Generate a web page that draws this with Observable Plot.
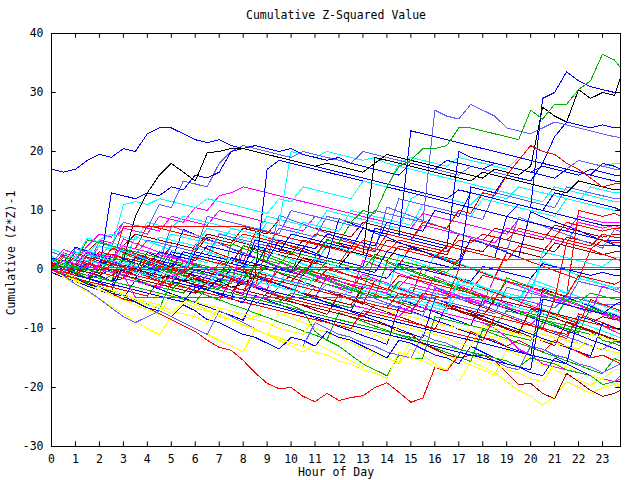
<!DOCTYPE html>
<html><head><meta charset="utf-8">
<script src="https://cdn.jsdelivr.net/npm/d3@7"></script>
<script src="https://cdn.jsdelivr.net/npm/@observablehq/plot@0.6"></script>
<style>body{margin:0;background:#fff}</style>
</head><body><div id="chart"></div>
<script>
const title = "Cumulative Z-Squared Value";
const xLabel = "Hour of Day";
const yLabel = "Cumulative (Z*Z)-1";
const hours = [0,0.5,1,1.5,2,2.5,3,3.5,4,4.5,5,5.5,6,6.5,7,7.5,8,8.5,9,9.5,10,10.5,11,11.5,12,12.5,13,13.5,14,14.5,15,15.5,16,16.5,17,17.5,18,18.5,19,19.5,20,20.5,21,21.5,22,22.5,23,23.5,23.75];
const xTicks = [0,1,2,3,4,5,6,7,8,9,10,11,12,13,14,15,16,17,18,19,20,21,22,23];
const yTicks = [-30,-20,-10,0,10,20,30,40];

const R="#ff0000", G="#00b000", B="#0000ff", M="#ff00ff", C="#00ffff", D="#a00000", Y="#ffff00", K="#000000", L="#6060ff";

const s01=[17,16.5,17,18.5,19.5,19,20.5,20, 23,24,24,23,22,21.5,22,21, 20.5,21,20.5,20,20.5,19.5,19,18.5, 19,18,17.5,17,16.5,16,18,17.5, 17,18.5,18,17.5,17,18,17.5,17, 16.5,17.5,17,16.5,16,17,16.5,16, 16];
const s02=[0,1,0.5,0,-0.5,2,1.5,9, 13,16,18,16.5,15,19.8,20,20.5, 20.5,20,19.5,19,18.5,18,17.5,18, 17.5,17,16.5,18,19.5,19,18.5,18, 17.5,17,16.5,16,15.5,17,16.5,16, 17.5,27.5,26,25,30.5,29,30,29.5, 32.5];
const s03=[0,1,2,1.5,1,0.5,1,0.5, 0,-0.5,1,0.5,0,-0.5,-1,0.5, 0,2,1.5,1,3,2.5,2,5, 4.5,8,10,9.5,14,17.5,18.5,20.5, 20.5,21,24,24,23.5,23,22.5,22, 27,25.5,28,28,30.5,32,36.5,35.5, 34.2];
const s04=[0,-1,0,1,0.5,2,1.5,1, 0.5,3,2.5,2,1.5,4,3.5,3, 2.5,2,1.5,5,4.5,4,3.5,6, 5.5,5,4.5,4,8,7.5,7,6.5, 10,9.5,9,13,12.5,12,11.5,11, 10.5,29,30,33.5,32,31,30.5,30, 30];
const s05=[0,1.5,1,0.5,3,2.5,2,1.5, 1,0.5,4,3.5,3,2.5,6,5.5, 5,4.5,4,7,6.5,6,5.5,9, 8.5,8,7.5,10,9.5,9,8.5,8, 27,26,25.5,28,27,26,24,23.5, 23,24,25,24.5,24,23.5,23,22.5, 22.4];
const s06=[0,0.5,-0.5,1,0.5,0,-0.5,2, 1.5,1,0.5,3,2.5,2,1.5,1, 0.5,4,3.5,3,6,5.5,5,4.5, 4,3.5,7,6.5,6,5.5,23.5,23, 22.5,22,21.5,21,20.5,20,19.5,19, 18.5,18,22.5,25,24.5,24,24.5,24, 24];
const s07=[0,1,0.5,0,-0.5,-1,0,-0.5, -1,-1.5,-1,-2,-1.5,-2.5,-2,-3, -2.5,-1,0.5,0,-0.5,2,1.5,1, 0.5,3,2.5,19,18.5,18,17.5,17, 16.5,16,15.5,15,16.5,16,15.5,15, 14.5,14,13.5,13,15,14.5,14,13.5, 13.5];
const s08=[0,-0.5,1,0.5,0,13,12.5,12, 13,12.5,14,13.5,16,15.5,16.5,20, 20.5,20,19.5,19,18.5,18,17.5,17, 16.5,16,15.5,15,14.5,14,13.5,13, 12.5,12,13.5,13,12.5,12,11.5,11, 10.5,10,13,12.5,12,11.5,11,10.5, 10];
const s09=[0,1,2,1.5,4,3.5,11,11.5, 11,12,11.5,11,10.5,12,11.5,11, 10.5,10,9.5,12,11.5,14,13.5,13, 12.5,12,15,14.5,14,18,19,18.5, 18,17.5,19,18.5,18,17.5,17,19, 18.5,18,17.5,17,18.5,18,17.5,18, 18];
const s10=[0,-0.5,-1,1,0.5,0,4,3.5, 3,2.5,6,5.5,5,4.5,4,7, 6.5,6,5.5,5,4.5,8,7.5,7, 6.5,10,9.5,9,8.5,8,7.5,11, 10.5,10,9.5,9,12,11.5,11,10.5, 10,9.5,9,12,11.5,11,10.5,10, 10];
const s11=[0,2,1.5,5,4.5,4,8,7.5, 7,11,10.5,15,14.5,14,18,20, 21,20.5,20,19.5,19,20,19.5,19, 18.5,18,20,19.5,19,18.5,18,17.5, 17,16.5,16,17.5,17,16.5,16,15.5, 15,18,17.5,17,18.5,18,17.5,17, 17];
const s12=[0,-1,-0.5,-1.5,-1,0,-0.5,-1, -1.5,0,-0.5,-1,3,2.5,2,1.5, 1,0.5,4,3.5,3,2.5,2,5, 4.5,4,3.5,3,6,5.5,5,4.5, 4,3.5,20,19,18.5,18,17.5,17, 16.5,16,15.5,17,16.5,16,15.5,15, 15];
const s13=[0,0.5,3,2.5,5,6,5.5,5, 8,7.5,7,9,8.5,8,7.5,7, 6.5,6,9,8.5,8,7.5,7,10, 9.5,9,8.5,8,7.5,7,12,13, 12.5,12,11.5,11,13,12.5,12,14, 13.5,13,12.5,12,11.5,14,13.5,13, 13];
const s14=[0,-0.5,-1,-1.5,-1,-2,-1.5,0, -0.5,-1,-1.5,-2,0,-0.5,-1,-1.5, -2,1,0.5,0,-0.5,-1,2,1.5, 1,0.5,0,-0.5,3,2.5,2,1.5, 1,0.5,0,14,13.5,13,16,15.5, 15,18,17.5,17,16.5,16,18,17.5, 17];
const s15=[0,-0.5,-1,0.5,0,-0.5,-1,-1.5, -2,-2.5,-1,-1.5,-2,-2.5,-3,-1, -1.5,-2,-2.5,0,-0.5,-1,2,1.5, 1,4,3.5,3,6,5.5,5,8, 7.5,7,10,9.5,13,12.5,16,18.5, 21,20,19.5,18,17,15.5,14,14.5, 14.5];
const s16=[0,1,0.5,0,-0.5,-1,0.5,0, -0.5,-1,-1.5,0,-0.5,-1,-1.5,-2, -1,-1.5,-2,-2.5,-1,-1.5,-2,0, -0.5,-1,-1.5,-2,-2.5,-3,-1,-1.5, -2,-2.5,-3,-3.5,-1,-1.5,-2,-2.5, -3,-3.5,-4,-4.5,10,9.5,9,9.5, 9];
const s17=[0,0.5,1,3,2.5,2,4,3.5, 7.5,7,6.5,6,5.5,5,4.5,4, 6,5.5,5,4.5,4,3.5,6,5.5, 5,4.5,4,3.5,3,5,4.5,4, 3.5,3,5,4.5,6,5.5,5,7, 6.5,6,5.5,8,7.5,7,6.5,7, 7];
const s18=[0,0.5,1,0.5,0,0.5,7.3,7.3, 7.3,7.3,7.3,7.3,7.3,7.3,7.3,7.3, 7.3,6.8,6.3,5.8,5.3,4.8,4.3,3.8, 3.3,2.8,5,4.5,4,3.5,3,2.5, 2,4,3.5,3,2.5,2,1.5,4, 3.5,3,5.5,5,4.5,4,6,5.5, 5.5];
const s19=[0,-0.5,-1,1,3,2.5,2,1.5, 1,0.5,0,3,2.5,2,1.5,1, 4,3.5,3,2.5,2,1.5,1,4, 3.5,3,2.5,2,1.5,4,3.5,3, 2.5,2,1.5,5,4.5,4,3.5,3, 2.5,2,4.5,4,3.5,3,2.5,3, 3];
const s20=[0,1,0.5,3,5,4.5,4,6, 5.5,5,4.5,4,3.5,6,5.5,5, 4.5,4,3.5,3,2.5,5,4.5,4, 3.5,3,2.5,2,5,4.5,4,3.5, 3,2.5,6,5.5,5,7,6.5,6, 5.5,5,7.5,7,6.5,6,5.5,6, 6];
const s25=[0,0.5,-0.5,-1,1,0.5,0,-0.5, -1,1.5,1,0.5,0,-0.5,-1,2, 1.5,1,0.5,0,-0.5,-1,1.5,1, 0.5,0,-0.5,-1,-1.5,1,0.5,0, -0.5,-1,-1.5,-2,0.5,0,-0.5,-1, -1.5,1,0.5,0,-0.5,-1,-0.5,-1, -1];
const s26=[0,-0.5,-1,-1.5,-2,-1,-1.5,-2, -2.5,-3,-1,-1.5,-2,-2.5,-3,-3.5, -4,-2,-2.5,-3,-3.5,-4,-4.5,-2.5, -3,-3.5,-4,-4.5,-5,-5.5,-3,-3.5, -4,-4.5,-5,-5.5,-6,-4,-4.5,-5, -5.5,-6,-6.5,-4.5,-5,-5.5,-6,-6, -6];
const s27=[0,1,0.5,0,-0.5,-1,-1.5,-2, 0,-0.5,-1,-1.5,-2,-2.5,-3,-1, -1.5,-2,-2.5,-3,-3.5,-1.5,-2,-2.5, -3,-3.5,-4,-2,-2.5,-3,-3.5,-4, -4.5,-2,-2.5,-3,-3.5,-4,-4.5,-5, -2.5,-3,-3.5,-4,-1.5,-2,-2.5,-3, -3];
const s28=[0,2,1.5,4,6,5.5,8,7.5, 7,6.5,9,8.5,8,7.5,10,9.5, 9,8.5,8,7.5,7,6.5,9,8.5, 8,7.5,7,6.5,6,5.5,5,7.5, 7,6.5,6,5.5,5,4.5,7,6.5, 6,5.5,5,4.5,8,7.5,7,7.5, 7];
const s29=[0,-0.5,-1,-1.5,1,0.5,0,-0.5, -1,-1.5,-2,-2.5,-3,-1,-1.5,-2, -2.5,-3,-3.5,-4,-4.5,-5,-3,-3.5, -4,-4.5,-5,-5.5,-6,-6.5,-7,-5, -5.5,-6,-6.5,-7,-7.5,-8,-8.5,-9, -9.5,-7,-7.5,-8,-8.5,-9,-9.5,-10.5, -11];
const s30=[0,-1,-0.5,-1.5,-2,-1,-1.5,-2, -2.5,-3,-3.5,-4,-2,-2.5,-3,-3.5, -4,-4.5,-5,-5.5,-4,-4.5,-5,-5.5, -6,-6.5,-4,-4.5,-5,-5.5,-6,-6.5, -7,-7.5,-8,-8.5,-9,-9.5,-7,-7.5, -8,-8.5,-9,-9.5,-10,-10.5,-12,-12.5, -13];
const s31=[0,-1,-2,-2.5,-3.5,-4,-5,-5.5, -6,-4,-4.5,-5,-5.5,-6,-6.5,-7, -7.5,-8,-5.5,-6,-6.5,-7,-7.5,-8, -8.5,-9,-9.5,-10,-7,-7.5,-8,-8.5, -9,-9.5,-10,-10.5,-11,-11.5,-12,-10, -10.5,-11,-11.5,-12,-12.5,-13,-13.5,-14, -14];
const s32=[0,-1.3,-2.5,-3.8,-5,-6.3,-7.5,-8.8, -10,-11,-8,-9,-10,-11,-12,-13, -14,-10,-11,-12,-13,-14,-12.5,-13.5, -14.5,-15.5,-16.5,-14,-15,-16,-13.5,-14.5, -16,-17,-19,-15.5,-16.5,-17.5,-19,-20.5, -21.5,-23,-21.5,-19,-20,-21,-20,-19.5, -20];
const s33=[0,-0.5,-1.5,-2,-3,-4,-5,-5.5, -6.5,-7.5,-8.5,-9.5,-10.5,-12,-13.2,-13.7, -15.4,-17.5,-19.3,-20.2,-20,-21.5,-22.4,-21, -22.2,-21.7,-21.4,-20,-19.2,-20.8,-22.5,-21.8, -16.6,-17.2,-14.6,-10.5,-11.5,-12,-13,-12, -13,-14,-12,-13,-14,-15,-14.5,-15.5, -16];
const s34=[0,-0.5,-1,-1.5,0,-0.5,-1,-1.5, -2,-2.5,-3,-3.5,-4,-2,-2.5,-3, -3.5,-4,-4.5,-5,-5.5,-6,-6.5,-7, -7.5,-8,-8.5,-9,-9.5,-10.5,-11,-12.5, -13.5,-14.5,-15,-14.5,-14.5,-15.5,-17.5,-19.5, -19.3,-21,-21.9,-17.6,-19,-20.5,-21.5,-21, -20.5];
const s35=[0,-1,-1.5,0,-0.5,-1,-1.5,-2, -2.5,-3,-3.5,-1.5,-2,-2.5,-3,-3.5, -4,-4.5,-5,-5.5,-6,-7,-10.5,-12, -13,-14.5,-16,-17,-18,-14.5,-15,-15, -8,-8.5,-9,-9.5,-10,-10.5,-11,-11.5, -12,-9,-9.5,-10,-10.5,-11,-11.5,-12, -12];
const s36=[0,-1,-1.5,-2.5,-3,-4,-4.5,-5.5, -6.5,-7,-8,-6,-7,-8.5,-9,-10, -11,-11.5,-12.5,-13.5,-11.5,-12,-13,-10.5, -11.5,-12,-13,-14,-15,-12,-12.5,-13.5, -14.5,-15,-16,-13,-14,-15,-16,-16.5, -17.5,-18,-15,-16,-17,-18,-18.5,-19, -19];
const s37=[0,-1,-2.5,-3.5,-5,-6.5,-8,-9, -8,-7,-8,-9,-10,-11,-7,-8, -9,-10,-11,-11.5,-12.5,-13,-9,-10, -11,-11.5,-12.5,-13,-14,-14.5,-15,-11, -12,-12.5,-13.5,-14,-15,-15.5,-16.5,-17, -13,-13.5,-14.5,-15,-16,-16.5,-17.5,-16.5, -16];
const s38=[0,1,0.5,0,-0.5,-1,-1.5,-2, -2.5,-3,-1,-1.5,-2,-2.5,-3,-3.5, -4,-4.5,-5,-3,-3.5,-4,-4.5,-5, -5.5,-6,-6.5,-7,-7.5,-8,-6,-6.5, -7,-7.5,-8,-8.5,-9,-10,-11.5,-13.5, -14.5,-16,-16.5,-17,-17.5,-18,-18.5,-19, -18.5];
const s39=[0,0.5,-0.5,-1,-1.5,-2,0,-0.5, -1,-1.5,-2,-2.5,-3,-3.5,-1.5,-2, -2.5,-3,-3.5,-4,-4.5,-5,-5.5,-6, -6.5,-7,-7.5,-8,-8.5,-9,-9.5,-10, -10.5,-11,-11.5,-12,-12.5,-13,-13.5,-14, -14.5,-15,-15.5,-16,-8,-8.5,-9.5,-10, -10];
const s40=[0,1,3,2.5,2,1.5,1,0.5, 0,-0.5,-1,-1.5,-2,-2.5,-0.5,-1, -1.5,-2,-2.5,-3,-3.5,-4,-4.5,-5, -5.5,-3,-3.5,-4,-4.5,-5,-5.5,-6, -6.5,-7,-4,-4.5,-5,-5.5,-6,-6.5, -7,-7.5,-8,-5,-5.5,-6,-7,-7.5, -8];
const s41=[0,2,1.5,5,4.5,4,3.5,3, 2.5,2,1.5,1,0.5,0,-0.5,-1, -1.5,0.5,0,-0.5,-1,-1.5,-2,-2.5, -3,-3.5,-4,-4.5,-5,-2,-2.5,-3, -3.5,-4,-4.5,-5,-5.5,-6,-6.5,-7, -7.5,-8,-8.5,-5,-5.5,-4,-4.5,-5, -5];
const s42=[0,-0.5,1,0.5,3,2.5,2,1.5, 1,0.5,0,-0.5,2,1.5,1,0.5, 0,-0.5,-1,-1.5,-2,0,-0.5,-1, -1.5,-2,-2.5,-3,-3.5,-1,-1.5,-2, -2.5,-3,-3.5,-4,-4.5,-5,-2,-2.5, -3,-3.5,-4,-4.5,-1,-1.5,-2,-2.5, -2];
const s44=[0,0.5,-0.5,1.5,1,0.5,0,-0.5, -1,-1.5,-2,0,-0.5,-1,-1.5,-2, -2.5,-3,-1,-1.5,-2,-2.5,-3,-3.5, -4,-4.5,-5,-5.5,-6,-6.5,-4,-4.5, -5,-5.5,-6,-6.5,-7,-7.5,-3,-3.5, -4,-4.5,-5,-5.5,-2,-2.5,-3,-3.5, -3];
const s45=[0,0.5,0,-0.5,-1,1,0.5,0, -0.5,-1,-1.5,-2,-2.5,-3,-3.5,-4, -1.5,-2,-2.5,-3,-3.5,-4,-4.5,-5, -5.5,-6,-3,-3.5,-4,-4.5,-5,-5.5, -6,-6.5,-7,-7.5,-8,-5,-5.5,-6, -6.5,-7,-7.5,-8,-8.5,-9,-8,-8.5, -8];
const s46=[0,-1,-1.5,-2,-3,-3.5,-4,-5, -5.5,-6,-7,-7.5,-8,-9,-6.5,-7, -8,-8.5,-9,-10,-10.5,-11,-8,-8.5, -9,-10,-10.5,-11,-12,-9.5,-10,-10.5, -11,-11.5,-12.5,-13,-9.5,-10,-10.5,-11, -11.5,-12,-12.5,-13,-13.5,-11,-11.5,-12, -12];
const s47=[0,-0.5,-1.5,-2,-3,-3.5,-4.5,-5, -6,-6.5,-7.5,-5.5,-6.5,-7,-8,-8.5, -9.5,-10,-11,-11.5,-12.5,-13,-14,-14.5, -15.5,-16,-17,-17.5,-18.5,-14,-15,-15.5, -16.5,-17,-14,-14.5,-15.5,-16,-17,-17.5, -18.5,-19,-16,-16.5,-17.5,-18,-18.5,-17, -17];
const s48=[0,0.5,-0.5,-1,-1.5,-2,-2.5,-3, -3.5,-4,-4.5,-5,-5.5,-3,-3.5,-4, -4.5,-5,-5.5,-6,-6.5,-7,-7.5,-8, -8.5,-9,-9.5,-10,-10.5,-11,-11.5,-12, -12.5,-13,-13.5,-14,-14.5,-15,-15.5,-16.5, -15,-15.5,-16,-17,-17.5,-18,-19.5,-19, -18];
const s49=[0,1,0.5,0,2.5,2,1.5,1, 0.5,0,3,2.5,2,1.5,1,0.5, 0,5,4.5,4,3.5,3,2.5,2, 1.5,1,0.5,7,6.5,6,5.5,5, 4.5,4,3.5,3,2.5,2,9,8.5, 8,7.5,7,6.5,6,5.5,5,5, 5];
const s50=[0,2,1.5,1,4,3.5,3,2.5, 5,4.5,4,3.5,3,9,8.5,8, 7.5,7,6.5,6,10,9.5,9,8.5, 8,7.5,7,6.5,6,12,11.5,11, 10.5,10,9.5,9,8.5,13,12.5,12, 11.5,11,10.5,14,13.5,13,12.5,12, 12];
const s51=[0,-0.5,2,1.5,1,0.5,0,-0.5, -1,-1.5,-2,1,0.5,0,-0.5,-1, -1.5,-2,-2.5,-3,-3.5,-4,-1,-1.5, -2,-2.5,-3,-3.5,-4,-4.5,-5,-5.5, -6,-6.5,-2,-2.5,-3,-3.5,-4,-4.5, -5,3,2.5,2,1.5,1,0.5,2, 2];
const s52=[0,1.5,1,3,2.5,2,4,3.5, 3,2.5,2,1.5,1,0.5,0,-0.5, -1,-1.5,1,0.5,0,-0.5,-1,-1.5, -2,-2.5,-3,-3.5,-4,-2,-2.5,-3, -3.5,-4,-4.5,-5,-5.5,-6,-6.5,-7, -7.5,-5,-5.5,-6,-6.5,-7,-7.5,-8, -8];
const s53=[0,0.5,2,1.5,1,3.5,3,2.5, 2,1.5,4,3.5,3,5.5,5,4.5, 7,6.5,6,8.5,8,7.5,7,6.5, 6,5.5,8,7.5,7,6.5,6,5.5, 5,4.5,4,3.5,3,5.5,5,4.5, 4,3.5,3,5.5,5,4.5,4,4, 4];
const s54=[0,-0.5,-1,-1.5,-2,-2.5,-3,-3.5, -4,-4.5,-5,-5.5,-3,-3.5,-4,-4.5, -5,-5.5,-6,-6.5,-7,-7.5,-8,-8.5, -9,-9.5,-10,-10.5,-11,-11.5,-12,-12.5, -13,-13.5,-14,-14.5,-15,-15.5,-16,-16.5, -17,-5,-5.5,-6,-6.5,-7,-7.5,-6, -5.5];
const s55=[0,1,0.5,0,-0.5,-1,-1.5,1, 0.5,0,-0.5,-1,-1.5,-2,-2.5,-3, -3.5,-1,-1.5,-2,-2.5,-3,-3.5,-4, -4.5,-5,-5.5,-6,-6.5,-4,-4.5,-5, -5.5,-6,-6.5,-7,-7.5,-8,-8.5,-9, -9.5,-10,-5,4.5,4,3.5,5,4.5, 4.5];
const s56=[0,-0.5,-1,1,0.5,0,-0.5,-1, -1.5,-2,-2.5,-3,-3.5,-4,-4.5,-5, -5.5,-6,-6.5,-7,-7.5,-8,-8.5,-9, -9.5,-10,-7,-7.5,-8,-8.5,-9,-9.5, -10,-10.5,-11,-11.5,-12,-8,-8.5,-9, -9.5,-10,-10.5,-11,-8.5,-9,-9.5,-10, -10];
const s57=[0,1,0.5,2.5,2,4.5,4,3.5, 3,5.5,5,4.5,4,7,6.5,6, 5.5,5,8,7.5,20,19.5,19,20, 19.5,19,18.5,19,18,17.5,17,16.5, 16,15.5,15,14.5,14,13.5,13,12.5, 12,11.5,14,13.5,13,12.5,12,11.5, 11.5];
const s58=[0,-0.5,-1,0.5,0,-0.5,-1,-1.5, 1,0.5,0,-0.5,-1,-1.5,-2,0, -0.5,-1,17,18.5,18,17.5,17,16.5, 16,15.5,15,14.5,14,13.5,13,12.5, 12,11.5,11,10.5,10,9.5,9,11, 10.5,10,9.5,9,8.5,8,7.5,7.5, 7.5];
const s59=[0,1,3,2.5,5,4.5,7,6.5, 6,9,8.5,8,10.5,10,12.5,13, 14,13.5,13,12.5,12,11.5,11,10.5, 10,9.5,9,8.5,8,7.5,7,9.5, 9,8.5,8,7.5,7,6.5,6,8.5, 8,7.5,7,6.5,9,8.5,8,8, 8];
const a01=[1,0.2,-0.6,2.4,1.8,0.9,3.6,2.7, 2.1,1.2,0.5,-0.3,4.2,3.5,2.6,1.9, 1.1,6.3,5.4,4.8,3.9,3.2,2.4,5.1, 4.3,3.6,2.9,2.2,1.4,0.7,3.9,3.1, 2.4,1.6,0.9,0.2,-0.6,-1.3,2.8,2.1, 1.3,0.6,-0.2,-0.9,-1.7,3.4,2.6,1.9, 1.5];
const a02=[2,1.3,3.8,3.1,2.2,1.5,0.6,-0.2, 2.9,2.1,1.4,6.8,5.9,5.2,4.4,3.5, 2.8,2,1.1,0.3,-0.4,3.6,2.8,1.9, 8.6,7.8,7.1,6.2,5.5,4.6,3.8,3.1, 2.2,1.4,0.6,5.3,4.5,3.7,2.9,2.1, 9.8,8.9,8.1,7.4,6.6,5.7,4.9,4.2, 3.8];
const a03=[0.5,2.8,2.1,1.3,0.4,-0.3,-1.1,1.6, 0.9,0.1,-0.7,-1.5,-2.2,0.4,-0.3,-1.1, -1.9,-2.6,-3.4,1.2,0.5,-0.3,-1.1,-1.8, -2.6,-3.3,-0.8,-1.6,-2.3,-3.1,-3.9,-4.6, -1.2,-2,-2.7,-3.5,-4.3,-5,-5.8,-6.5, -3.1,-3.9,-4.6,-5.4,-6.1,-6.9,-7.6,-8.4, -8.8];
const a04=[1.5,0.8,0.1,3.2,2.4,1.7,0.9,5.6, 4.8,4.1,3.3,2.6,1.8,1.1,6.2,5.4, 4.7,3.9,3.2,2.4,1.7,0.9,0.2,4.5, 3.7,3,2.2,1.5,0.7,0,-0.8,-1.5, 2.6,1.8,1.1,0.3,-0.4,-1.2,-1.9,-2.7, -3.4,1.3,0.5,-0.2,-1,-1.7,-2.5,-3.2, -3.6];
const a05=[0,-0.8,-1.5,-2.3,0.6,-0.2,-0.9,-1.7, -2.4,-3.2,1.4,0.6,-0.1,-0.9,-1.6,-2.4, 4.1,3.3,2.6,1.8,1.1,0.3,-0.4,-1.2, -1.9,-2.7,-3.4,2.2,1.4,0.7,-0.1,-0.8, -1.6,-2.3,-3.1,-3.8,-4.6,-5.3,-1.4,-2.2, -2.9,-3.7,-4.4,-5.2,-5.9,-6.7,-7.4,-8.2, -8.6];
const a06=[3,2.2,1.5,0.7,4.8,4,3.3,2.5, 1.8,1,7.4,6.6,5.9,5.1,4.4,3.6, 2.9,2.1,1.4,9.2,8.4,7.7,6.9,6.2, 5.4,4.7,3.9,3.2,10.6,9.8,9.1,8.3, 7.6,6.8,6.1,5.3,4.6,3.8,3.1,8.9, 8.1,7.4,6.6,5.9,5.1,4.4,3.6,6.8, 6.4];
const a07=[0,-0.7,-1.5,-2.2,-3,-3.7,0.8,0.1, -0.7,-1.4,-2.2,-2.9,-3.7,-4.4,-5.2,-1.6, -2.4,-3.1,-3.9,-4.6,-5.4,-6.1,-6.9,-7.6, -4.2,-5,-5.7,-6.5,-7.2,-8,-8.7,-9.5, -10.2,-6.1,-6.9,-7.6,-8.4,-9.1,-9.9,-10.6, -11.4,-12.1,-12.9,-8.8,-9.6,-10.3,-11.1,-11.8, -12.2];
const a08=[0.8,0,-0.7,-1.5,-2.2,-3,1.9,1.1, 0.4,-0.4,-1.1,-1.9,-2.6,-3.4,-4.1,-4.9, -0.3,-1.1,-1.8,-2.6,-3.3,-4.1,-4.8,-5.6, -6.3,-7.1,-2.7,-3.5,-4.2,-5,-5.7,-6.5, -7.2,-8,-8.7,-9.5,-5.1,-5.9,-6.6,-7.4, -8.1,-8.9,-9.6,-10.4,-11.1,-11.9,-12.6,-13.4, -13.8];
const a09=[0,2.5,1.7,1,0.2,3.7,2.9,2.2, 1.4,0.7,-0.1,-0.8,-1.6,-2.3,1.3,0.5, -0.2,-1,-1.7,-2.5,-3.2,-4,-4.7,-1.2, -2,-2.7,-3.5,-4.2,-5,-5.7,-6.5,-7.2, -3.4,-4.2,-4.9,-5.7,-6.4,-7.2,-7.9,-8.7, -9.4,-10.2,-10.9,-11.7,-7.5,-8.3,-9,-9.8, -10.2];
const a10=[2.2,1.4,0.7,-0.1,2.9,2.1,1.4,0.6, -0.1,-0.9,-1.6,3.1,2.3,1.6,0.8,0.1, -0.7,-1.4,-2.2,-2.9,1.8,1,0.3,-0.5, -1.2,-2,-2.7,-3.5,-4.2,2.4,1.6,0.9, 0.1,-0.6,-1.4,-2.1,-2.9,-3.6,-4.4,-5.1, -1.6,-2.4,-3.1,-3.9,-4.6,-5.4,-6.1,-6.9, -7.3];
const a11=[-0.5,-1.3,-2,-2.8,-3.5,-4.3,-5,-1.8, -2.6,-3.3,-4.1,-4.8,-5.6,-6.3,-7.1,-7.8, -8.6,-4.4,-5.2,-5.9,-6.7,-7.4,-8.2,-8.9, -9.7,-10.4,-11.2,-11.9,-12.7,-6.3,-7.1,-7.8, -8.6,-9.3,-10.1,-10.8,-11.6,-12.3,-13.1,-13.8, -14.6,-3.2,-4,-4.7,-5.5,-6.2,-7,-7.7, -8.1];
const a12=[1,3.4,2.6,1.9,1.1,0.4,5.2,4.4, 3.7,2.9,2.2,1.4,0.7,-0.1,-0.8,-1.6, 2.8,2,1.3,0.5,-0.2,-1,-1.7,-2.5, -3.2,-4,1.6,0.8,0.1,-0.7,-1.4,-2.2, -2.9,-3.7,-4.4,-5.2,-5.9,-1.3,-2.1,-2.8, -3.6,-4.3,-5.1,-5.8,-6.6,-7.3,-2.8,-3.6, -4];
const a13=[0,-0.9,-1.7,-2.6,-3.4,-4.3,-5.1,-6, -6.8,-7.7,-4.2,-5.1,-5.9,-6.8,-7.6,-8.5, -9.3,-10.2,-11,-7.3,-8.2,-9,-9.9,-10.7, -11.6,-12.4,-13.3,-14.1,-15,-15.8,-11.9,-12.8, -13.6,-14.5,-15.3,-16.2,-17,-17.9,-13.6,-14.5, -15.3,-16.2,-17,-17.9,-18.7,-19.6,-18.5,-19.3, -19.5];
const a14=[1.8,1,0.3,-0.5,-1.2,-2,2.7,1.9, 1.2,0.4,-0.3,-1.1,-1.8,-2.6,-3.3,4.4, 3.6,2.9,2.1,1.4,0.6,-0.1,-0.9,-1.6, -2.4,-3.1,-3.9,-4.6,1.2,0.4,-0.3,-1.1, -1.8,-2.6,-3.3,-4.1,-4.8,-5.6,-6.3,-7.1, -7.8,-8.6,-9.3,-10.1,-10.8,-6.4,-7.2,-7.9, -8.3];
const a15=[0,-0.8,3.6,2.8,2.1,1.3,0.6,-0.2, -0.9,-1.7,2.4,1.6,0.9,0.1,-0.6,-1.4, -2.1,-2.9,-3.6,-4.4,-5.1,-0.4,-1.2,-1.9, -2.7,-3.4,-4.2,-4.9,-5.7,-6.4,-7.2,-7.9, -3.1,-3.9,-4.6,-5.4,-6.1,-6.9,-7.6,-8.4, -9.1,-9.9,-10.6,-11.4,-12.1,-12.9,-13.6,-12.1, -12.5];
const a16=[0.5,-0.3,-1,2.6,1.8,1.1,0.3,-0.4, -1.2,-1.9,-2.7,1.5,0.7,0,-0.8,-1.5, -2.3,-3,4.2,3.4,2.7,1.9,1.2,0.4, -0.3,-1.1,-1.8,-2.6,-3.3,-4.1,-4.8,0.6, -0.2,-0.9,-1.7,-2.4,-3.2,-3.9,-4.7,-5.4, -6.2,-6.9,-7.7,-8.4,-9.2,-5.1,-5.9,-6.6, -7];
const a17=[1.2,0.4,2.9,2.1,1.4,0.6,-0.1,-0.9, 1.8,1,0.3,-0.5,-1.2,-2,-2.7,-3.5, -4.2,0.9,0.1,-0.6,-1.4,-2.1,-2.9,-3.6, -4.4,-5.1,-5.9,-1.8,-2.6,-3.3,-4.1,-4.8, -5.6,-6.3,-7.1,-7.8,-8.6,-9.3,-10.1,-10.8, -6.7,-7.5,-8.2,-9,-9.7,-10.5,-11.2,-12, -12.4];
const a18=[0,1.6,0.8,0.1,-0.7,2.6,1.8,1.1, 0.3,-0.4,-1.2,-1.9,-2.7,-3.4,-4.2,-4.9, -5.7,-1.1,-1.9,-2.6,-3.4,-4.1,-4.9,-5.6, -6.4,-7.1,-7.9,-8.6,-9.4,-10.1,-10.9,-11.6, -4.9,-5.7,-6.4,-7.2,-7.9,-8.7,-9.4,-10.2, -10.9,-11.7,-12.4,-13.2,-13.9,-14.7,-9.1,-9.9, -10.3];
const a19=[3.5,2.7,2,5.4,4.6,3.9,3.1,2.4, 1.6,0.9,0.1,-0.6,3.8,3,2.3,1.5, 0.8,0,-0.7,-1.5,-2.2,-3,1.9,1.1, 0.4,-0.4,-1.1,-1.9,-2.6,-3.4,-4.1,-4.9, -5.6,-6.4,-1.4,-2.2,-2.9,-3.7,-4.4,-5.2, -5.9,-6.7,-7.4,-8.2,-8.9,-9.7,-10.4,-11.2, -11.6];
const a20=[0,-0.6,-1.4,-2.1,-2.9,-3.6,-4.4,-5.1, -5.9,-6.6,-2.1,-2.9,-3.6,-4.4,-5.1,-5.9, -6.6,-7.4,-8.1,-8.9,-9.6,-10.4,-11.1,-11.9, -7.3,-8.1,-8.8,-9.6,-10.3,-11.1,-11.8,-12.6, -13.3,-14.1,-14.8,-15.6,-10.2,-11,-11.7,-12.5, -13.2,-14,-14.7,-15.5,-16.2,-17,-17.7,-15.1, -15.5];
const s43=[0,-1,-1.5,-2,-2.5,-3,-3.5,-4, -4.5,-2,-2.5,-3,-3.5,-4,-4.5,-5, -5.5,-6,-4,-4.5,-5,-5.5,-6,-6.5, -7,-7.5,-8,-6,-6.5,-7,-7.5,-4, -4.5,-5,0,0,0,0,0,0, 0,0,0,0,0,0,0,0, 0];
const s24=[0,1,0.5,0,-0.5,2,1.5,1, 0.5,0,-0.5,-1,1,0.5,0,-0.5, -1,-1.5,1,0.5,0,-0.5,-1,1.5, 1,0.5,0,2.5,2,1.5,1,0.5, 0,-0.5,1.7,1.7,1.7,1.7,1.7,1.7, 1.7,1.7,1.7,1.7,1.7,1.7,1.7,1.7, 1.7];
const s23=[0,-0.5,1,0.5,0,-0.5,-1,-4.7, -4.7,-4.7,-4.7,-4.7,-4.7,-4.7,-4.7,-4.7, -4.7,-4.7,-4.7,-4.7,-4.7,-4.7,-4.7,-4.7, -4.7,-4.7,-4.7,-4.7,-4.7,-4.7,-4.7,-4.7, -4.7,-4.7,-4.7,-4.7,-4.7,-4.7,-4.7,-4.7, -4.7,-4.7,-4.7,-4.7,-4.7,-4.7,-4.7,-4.7, -4.7];
const s22=[0.3,0.3,0.3,0.3,0.3,0.3,0.3,0.3, 0.3,0.3,0.3,0.3,0.3,0.3,0.3,0.3, 0.3,0.3,0.3,0.3,0.3,0.3,0.3,0.3, 0.3,0.3,0.3,0.3,0.3,0.3,0.3,0.3, 0.3,0.3,0.3,0.3,0.3,0.3,0.3,0.3, 0.3,0.3,0.3,0.3,0.3,0.3,0.3,0.3, 0.3];
const s21=[0,0,0,0,0,0,0,0, 0,0,0,0,0,0,0,0, 0,0,0,0,0,0,0,0, 0,0,0,0,0,0,0,0, 0,0,0,0,0,0,0,0, 0,0,0,0,0,0,0,0, 0];

const seriesValues = [s20,s19,a07,s53,a01,s17,a02,s28,a03,s59,a04,s10,a05,s13,a06,s50,a08,s49,a09,s57,a10,s58,a11,s09,a12,s11,s08,s05,s06,s12,s14,s04,s01,s07,s02,s03,s15,s16,s18,
  s25,a13,s26,a14,s27,a15,s29,a16,s30,a17,s31,a18,s32,a19,s33,a20,s34,s35,s36,s37,s38,s39,s40,s41,s42,s44,s45,s46,s47,s48,s51,s52,s54,s55,s56,s43,s24,s23,s22,s21];
const seriesColors = [D,D,D,D,R,R,B,M,M,M,C,C,G,C,L,L,B,B,R,C,C,B,B,C,M,L,B,L,B,B,B,B,B,K,K,G,R,R,R,
  B,Y,L,G,C,L,M,R,G,D,Y,B,Y,C,R,G,D,G,B,L,M,B,C,G,R,L,D,Y,Y,G,C,M,B,R,R,R,G,M,M,R];

const marks = [];
seriesValues.forEach((vals, i) => {
  const rows = hours.map((h, j) => ({hour: h, value: vals[j]})).filter(d => d.value != null);
  marks.push(Plot.line(rows, {x: "hour", y: "value", stroke: seriesColors[i], strokeWidth: 1, clip: true, shapeRendering: "crispEdges"}));
});
marks.push(Plot.frame({stroke: "black", strokeWidth: 1}));
marks.push(Plot.ruleX(xTicks, {x: d => d, y1: -30, y2: -29.2, stroke: "black"}));
marks.push(Plot.ruleX(xTicks, {x: d => d, y1: 40, y2: 39.2, stroke: "black"}));
marks.push(Plot.ruleY(yTicks, {y: d => d, x1: 0, x2: 0.2, stroke: "black"}));
marks.push(Plot.ruleY(yTicks, {y: d => d, x1: 23.75, x2: 23.55, stroke: "black"}));
marks.push(Plot.axisX({ticks: xTicks, tickSize: 0, tickPadding: 8, label: null, tickFormat: d => String(d)}));
marks.push(Plot.axisY({ticks: yTicks, tickSize: 0, tickPadding: 8, label: null, tickFormat: d => String(d)}));
marks.push(Plot.text([title], {frameAnchor: "top", dy: -18, text: d => d, lineAnchor: "middle", textAnchor: "middle"}));
marks.push(Plot.text([xLabel], {frameAnchor: "bottom", dy: 26, text: d => d, lineAnchor: "middle", textAnchor: "middle"}));
marks.push(Plot.text([yLabel], {frameAnchor: "left", dx: -40, dy: 13, rotate: -90, text: d => d, lineAnchor: "middle", textAnchor: "middle"}));

const chart = Plot.plot({
  width: 640, height: 480,
  marginLeft: 51, marginRight: 20, marginTop: 33, marginBottom: 34,
  x: {domain: [0, 23.75]},
  y: {domain: [-30, 40]},
  style: {fontFamily: "DejaVu Sans Mono", fontSize: "11.5px", background: "white", color: "black"},
  marks
});
document.getElementById("chart").appendChild(chart);
</script>
</body></html>
